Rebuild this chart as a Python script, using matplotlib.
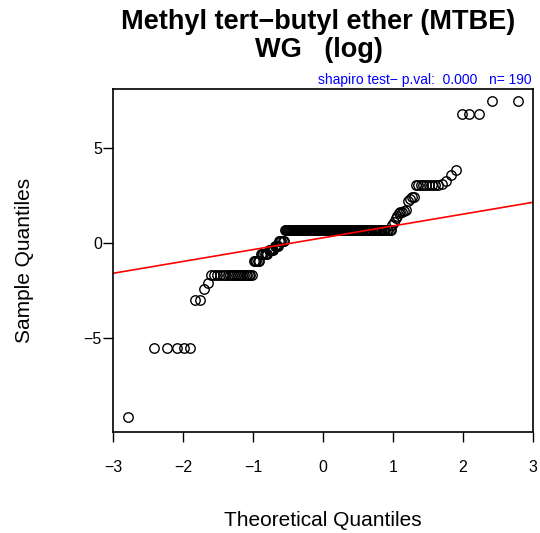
import matplotlib

matplotlib.use('Agg')
import matplotlib.pyplot as plt
import numpy as np
from statistics import NormalDist

plt.rcParams['font.family'] = ['Liberation Sans', 'DejaVu Sans']

# sorted sample values (log MTBE, WG) as (value, count)
sample_levels = [-9.15, -5.55, -3.0, -2.4, -2.1, -1.68, -0.95, -0.6, -0.35, -0.15, 0.1,
                 0.69, 0.95, 1.1, 1.3, 1.4, 1.55, 1.65, 1.7, 1.75,
                 2.2, 2.3, 2.4, 3.03, 3.1, 3.25, 3.55, 3.85, 6.8, 7.45]
sample_counts = [1, 5, 2, 1, 1, 20, 5, 6, 5, 4, 5,
                 104, 1, 1, 1, 1, 1, 2, 1, 1,
                 1, 1, 2, 9, 1, 1, 1, 1, 3, 2]
x_ticks = [-3, -2, -1, 0, 1, 2, 3]
y_ticks = [-5, 0, 5]

sample = np.repeat(sample_levels, sample_counts)
n = len(sample)
# R ppoints for n > 10
probs = (np.arange(1, n + 1) - 0.5) / n
theo = np.array([NormalDist().inv_cdf(p) for p in probs])

# qqline through the quartiles
q1, q3 = np.quantile(sample, [0.25, 0.75])
z1, z3 = NormalDist().inv_cdf(0.25), NormalDist().inv_cdf(0.75)
slope = (q3 - q1) / (z3 - z1)
inter = q1 - slope * z1

fig = plt.figure(figsize=(5.4, 5.33), dpi=100)
ax = fig.add_axes([113 / 540, 1 - 432 / 533, 420 / 540, 343 / 533])
ax.plot(theo, sample, 'o', mfc='none', mec='black', ms=6.8, mew=1.0)
xx = np.array([-3.5, 3.5])
ax.plot(xx, inter + slope * xx, color='red', lw=1.2)

ax.set_xlim(-3.0, 3.0)
ax.set_ylim(-9.95, 8.1)
ax.set_xticks(x_ticks)
ax.set_xticklabels([str(t).replace('-', '\u2212') for t in x_ticks])
ax.set_yticks(y_ticks)
ax.set_yticklabels([str(t).replace('-', '\u2212') for t in y_ticks])
ax.tick_params(direction='out', length=7, width=1, labelsize=11.5)
ax.tick_params(axis='x', pad=13)
ax.tick_params(axis='y', pad=1)
for s in ax.spines.values():
    s.set_linewidth(1.2)

ax.set_xlabel('Theoretical Quantiles', fontsize=15, labelpad=26)
ax.set_ylabel('Sample Quantiles', fontsize=15, labelpad=36)

fig.text(0.59, 1 - 22 / 533, 'Methyl tert\u2212butyl ether (MTBE)', ha='center', va='center',
         fontsize=19.5, fontweight='bold')
fig.text(0.59, 1 - 50 / 533, 'WG   (log)', ha='center', va='center',
         fontsize=19.5, fontweight='bold')
fig.text(532 / 540, 1 - 80 / 533, 'shapiro test\u2212 p.val:  0.000   n= 190', ha='right',
         va='center', fontsize=10, color='blue')

fig.savefig('out.png', dpi=100)
